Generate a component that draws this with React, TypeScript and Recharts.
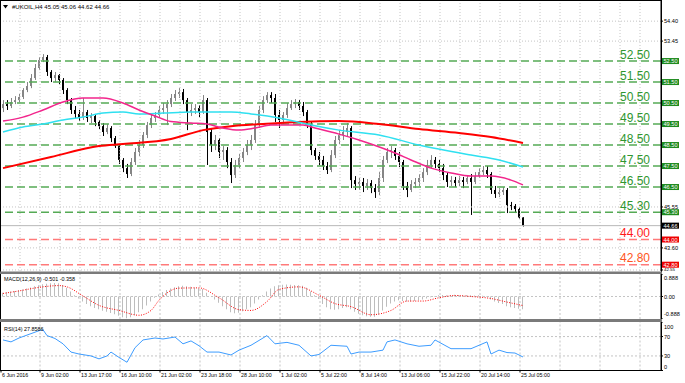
import React from "react";
import { ComposedChart, Bar, Line, XAxis, YAxis, ReferenceLine } from "recharts";

const FONT = '"Liberation Sans", Arial, sans-serif';

// #UKOIL H4 candles, 6 Jun 2016 .. 25 Jul 2016 05:00
const open = [
  50.26, 50.45, 50.36, 50.55, 50.64, 50.79, 51.12, 51.31, 51.69, 52.17,
  52.55, 52.69, 51.98, 51.69, 51.83, 51.6, 51.12, 50.64, 50.17, 49.98,
  49.83, 50.07, 49.79, 49.88, 49.6, 49.4, 49.12, 49.31, 48.83, 48.45,
  47.79, 47.4, 47.12, 47.69, 48.17, 48.5, 48.98, 49.45, 49.79, 49.93,
  50.17, 50.26, 50.45, 50.74, 50.93, 51.02, 50.64, 50.07, 50.17, 50.26,
  50.07, 50.64, 49.12, 48.5, 48.74, 48.17, 48.26, 47.69, 47.07, 47.55,
  47.88, 48.17, 48.5, 48.74, 49.45, 50.17, 50.64, 50.88, 50.74, 49.93,
  49.69, 49.93, 50.26, 50.45, 50.55, 50.36, 50.07, 49.5, 48.26, 47.98,
  47.79, 47.5, 47.31, 48.02, 48.74, 48.98, 49.12, 49.31, 46.83, 46.64,
  46.74, 46.55, 46.69, 46.45, 46.26, 46.93, 47.79, 48.17, 48.26, 47.98,
  47.69, 46.55, 46.36, 46.64, 46.74, 46.93, 47.21, 47.55, 47.79, 47.6,
  47.4, 47.07, 46.74, 46.83, 46.69, 46.83, 46.74, 46.93, 46.74, 47.02,
  47.21, 47.31, 47.12, 46.36, 46.17, 46.26, 46.36, 45.64, 45.6, 45.45,
  45.05,
];
const high = [
  50.64, 50.64, 50.74, 50.83, 50.93, 51.21, 51.5, 51.88, 52.36, 52.69,
  52.83, 52.79, 52.07, 51.98, 51.88, 51.69, 51.21, 50.74, 50.36, 50.17,
  50.74, 50.17, 50.02, 49.98, 49.69, 49.55, 49.5, 49.4, 48.93, 48.55,
  47.88, 47.6, 47.88, 48.36, 48.74, 49.12, 49.6, 49.98, 50.07, 50.36,
  50.5, 50.64, 50.93, 51.12, 51.21, 51.17, 50.74, 50.45, 50.45, 50.4,
  50.88, 50.74, 49.31, 48.98, 48.83, 48.45, 48.4, 47.88, 47.79, 48.07,
  48.36, 48.74, 48.98, 49.69, 50.36, 50.83, 51.02, 51.02, 50.93, 50.17,
  50.07, 50.5, 50.64, 50.69, 50.64, 50.55, 50.17, 49.6, 48.36, 48.17,
  47.98, 47.69, 48.26, 48.93, 49.21, 49.4, 49.55, 49.4, 47.02, 46.93,
  46.93, 46.88, 46.83, 46.64, 47.21, 47.98, 48.36, 48.45, 48.36, 48.17,
  47.79, 46.74, 46.83, 46.93, 47.12, 47.4, 47.79, 48.02, 47.93, 47.79,
  47.6, 47.21, 47.02, 46.98, 47.02, 46.98, 47.07, 47.12, 47.21, 47.4,
  47.5, 47.5, 47.21, 46.55, 46.45, 46.5, 46.45, 45.79, 45.69, 45.55,
  45.06,
];
const low = [
  50.07, 50.17, 50.26, 50.45, 50.55, 50.69, 51.02, 51.21, 51.6, 52.07,
  52.45, 51.79, 51.5, 51.5, 51.4, 50.93, 50.45, 49.98, 49.79, 49.64,
  49.69, 49.6, 49.55, 49.4, 49.26, 48.93, 49.02, 48.64, 48.36, 47.6,
  47.21, 46.93, 47.02, 47.55, 47.98, 48.36, 48.83, 49.31, 49.6, 49.79,
  49.98, 49.45, 50.31, 50.6, 50.74, 50.45, 49.21, 49.88, 49.98, 49.83,
  49.98, 47.55, 48.17, 48.26, 47.88, 47.79, 47.4, 46.69, 46.93, 47.4,
  47.69, 48.02, 48.26, 48.6, 49.31, 50.02, 50.5, 50.5, 49.6, 49.31,
  49.5, 49.79, 50.17, 50.26, 50.17, 49.88, 49.31, 48.02, 47.79, 47.55,
  47.31, 47.12, 47.21, 47.88, 48.55, 48.74, 48.93, 46.45, 46.36, 46.36,
  46.26, 46.36, 46.21, 45.98, 46.12, 46.74, 47.64, 47.88, 47.79, 47.45,
  46.36, 46.02, 46.26, 46.45, 46.55, 46.74, 47.07, 47.4, 47.4, 47.21,
  46.83, 46.5, 46.55, 46.5, 46.55, 46.45, 46.64, 45.17, 46.64, 46.93,
  47.07, 46.93, 46.17, 45.98, 46.02, 46.12, 45.26, 45.4, 45.26, 45.0,
  44.62,
];
const close = [
  50.45, 50.36, 50.55, 50.64, 50.79, 51.12, 51.31, 51.69, 52.17, 52.55,
  52.69, 51.98, 51.69, 51.83, 51.6, 51.12, 50.64, 50.17, 49.98, 49.83,
  50.07, 49.79, 49.88, 49.6, 49.4, 49.12, 49.31, 48.83, 48.45, 47.79,
  47.4, 47.12, 47.69, 48.17, 48.5, 48.98, 49.45, 49.79, 49.93, 50.17,
  50.26, 50.45, 50.74, 50.93, 51.02, 50.64, 50.07, 50.17, 50.26, 50.07,
  50.64, 49.12, 48.5, 48.74, 48.17, 48.26, 47.69, 47.07, 47.55, 47.88,
  48.17, 48.5, 48.74, 49.45, 50.17, 50.64, 50.88, 50.74, 49.93, 49.69,
  49.93, 50.26, 50.45, 50.55, 50.36, 50.07, 49.5, 48.26, 47.98, 47.79,
  47.5, 47.31, 48.02, 48.74, 48.98, 49.12, 49.31, 46.83, 46.64, 46.74,
  46.55, 46.69, 46.45, 46.26, 46.93, 47.79, 48.17, 48.26, 47.98, 47.69,
  46.55, 46.36, 46.64, 46.74, 46.93, 47.21, 47.55, 47.79, 47.6, 47.4,
  47.07, 46.74, 46.83, 46.69, 46.83, 46.74, 46.93, 46.74, 47.02, 47.21,
  47.31, 47.12, 46.36, 46.17, 46.26, 46.36, 45.64, 45.6, 45.45, 45.05,
  44.66,
];

// moving averages as [bar, price]
const maFast: [number, number][] = [
  [0, 49.64], [5, 49.83], [10, 50.17], [15, 50.55], [20, 50.74], [25, 50.74],
  [30, 50.5], [34, 50.17], [38, 49.88], [42, 49.62], [47, 49.55], [51, 49.5],
  [55, 49.31], [59, 49.21], [63, 49.31], [67, 49.45], [75, 49.45], [78, 49.31],
  [84, 49.02], [89, 48.74], [92, 48.55], [98, 48.12], [102, 47.79], [107, 47.4],
  [112, 47.17], [117, 47.02], [122, 47.02], [127, 46.83], [130, 46.6],
];
const maMid: [number, number][] = [
  [0, 49.12], [5, 49.36], [10, 49.5], [15, 49.69], [20, 49.83], [25, 50.02],
  [30, 50.07], [34, 49.98], [40, 50.02], [47, 50.07], [57, 50.07], [62, 49.98],
  [69, 49.79], [77, 49.45], [84, 49.21], [94, 48.98], [104, 48.5], [117, 48.02],
  [124, 47.79], [130, 47.45],
];
const maSlow: [number, number][] = [
  [0, 47.4], [12, 47.93], [24, 48.45], [30, 48.55], [42, 48.79], [50, 49.21],
  [57, 49.4], [65, 49.5], [74, 49.6], [84, 49.64], [94, 49.5], [104, 49.26],
  [114, 49.07], [122, 48.88], [130, 48.6],
];

const macdHist = [
  0.15, 0.18, 0.2, 0.22, 0.25, 0.28, 0.32, 0.36, 0.4, 0.44,
  0.48, 0.5, 0.52, 0.53, 0.52, 0.45, 0.35, 0.2, 0.05, -0.08,
  -0.2, -0.3, -0.38, -0.45, -0.5, -0.56, -0.6, -0.65, -0.7, -0.76,
  -0.82, -0.86, -0.82, -0.74, -0.62, -0.5, -0.36, -0.2, -0.05, 0.08,
  0.18, 0.26, 0.32, 0.37, 0.4, 0.42, 0.4, 0.38, 0.36, 0.33,
  0.3, 0.15, 0.0, -0.12, -0.25, -0.38, -0.5, -0.62, -0.66, -0.64,
  -0.58, -0.5, -0.42, -0.28, -0.12, 0.05, 0.2, 0.32, 0.4, 0.44,
  0.46, 0.47, 0.46, 0.45, 0.44, 0.42, 0.35, 0.2, 0.05, -0.1,
  -0.3, -0.42, -0.5, -0.52, -0.5, -0.45, -0.42, -0.5, -0.6, -0.68,
  -0.74, -0.78, -0.8, -0.8, -0.72, -0.55, -0.4, -0.28, -0.2, -0.15,
  -0.18, -0.2, -0.2, -0.18, -0.15, -0.12, -0.08, -0.03, 0.02, 0.05,
  0.06, 0.05, 0.06, 0.07, 0.06, 0.05, 0.06, 0.05, 0.04, 0.05,
  0.03, -0.02, -0.12, -0.2, -0.26, -0.3, -0.38, -0.42, -0.45, -0.48,
  -0.501,
];
const macdSignal: [number, number][] = [
  [0, 0.12], [4, 0.22], [9, 0.36], [14, 0.43], [16, 0.38], [20, 0.02], [24, -0.35],
  [29, -0.55], [34, -0.74], [37, -0.55], [39, -0.15], [44, 0.33], [49, 0.34],
  [54, -0.05], [59, -0.52], [62, -0.55], [66, -0.2], [69, 0.28], [74, 0.38],
  [79, 0.05], [83, -0.28], [87, -0.4], [92, -0.72], [97, -0.55], [101, -0.18],
  [105, -0.18], [109, -0.05], [113, 0.04], [117, 0.0], [122, -0.08], [126, -0.22],
  [130, -0.358],
];
const rsiPts: [number, number][] = [
  [0, 63], [2, 59], [4, 67], [7, 76], [9, 82], [10, 84], [11, 72], [13, 66], [15, 55],
  [17, 38], [19, 34], [22, 30], [24, 24], [26, 30], [27, 38], [29, 27], [31, 17],
  [33, 47], [35, 63], [38, 67], [40, 65], [43, 69], [45, 55], [47, 61], [49, 51],
  [51, 38], [54, 38], [57, 32], [59, 42], [62, 52], [66, 72], [68, 55], [71, 58],
  [74, 52], [77, 30], [79, 33], [82, 52], [86, 50], [87, 34], [89, 38], [92, 38],
  [95, 42], [96, 59], [98, 63], [101, 55], [104, 50], [107, 52], [108, 63],
  [112, 45], [117, 45], [121, 59], [122, 34], [124, 42], [126, 37], [128, 36],
  [130, 27.86],
];

const greenLevels = [52.5, 51.5, 50.5, 49.5, 48.5, 47.5, 46.5, 45.3];
const redLevels = [44.0, 42.8];
const bid = 44.66;
const priceTicks = [54.4, 53.45, 45.55, 43.6, 42.55];
const macdTicks = [0.888, 0, -0.888];
const rsiTicks = [100, 70, 30, 0];
const timeLabels = [
  "6 Jun 2016", "9 Jun 02:00", "13 Jun 17:00", "16 Jun 10:00", "21 Jun 02:00",
  "23 Jun 18:00", "28 Jun 10:00", "1 Jul 02:00", "5 Jul 22:00", "8 Jul 14:00",
  "13 Jul 06:00", "15 Jul 22:00", "20 Jul 14:00", "25 Jul 05:00",
];

const rows: any[] = close.map((c, i) => ({
  i, o: open[i], h: high[i], l: low[i], c,
  range: [low[i], high[i]],
  hist: macdHist[i],
  fast: null, mid: null, slow: null, sig: null, rsi: null,
}));
maFast.forEach(([i, v]) => (rows[i].fast = v));
maMid.forEach(([i, v]) => (rows[i].mid = v));
maSlow.forEach(([i, v]) => (rows[i].slow = v));
macdSignal.forEach(([i, v]) => (rows[i].sig = v));
rsiPts.forEach(([i, v]) => (rows[i].rsi = v));

// x-domain in bar units; grid every 5 bars in the price pane, every 10 below
const X_DOMAIN: [number, number] = [-0.5, 164.5];
const mainGridX = Array.from({ length: 32 }, (_, k) => 5 * (k + 1) - 0.75);
const subGridX = Array.from({ length: 16 }, (_, k) => 10 * (k + 1) - 0.75);
const timeTicks = timeLabels.map((_, k) => (k === 0 ? -0.5 : 10 * k - 0.75));

const GRID = "#c4c4c4";
const UP = "#858585";
const DOWN = "#000000";

function Candle(props: any) {
  const { x, y, width, height, payload } = props;
  if (!payload || height == null) return null;
  const top = Math.min(y, y + height);
  const span = Math.abs(height);
  const k = span / (payload.h - payload.l || 1);
  const yo = top + (payload.h - payload.o) * k;
  const yc = top + (payload.h - payload.c) * k;
  const col = payload.c >= payload.o ? UP : DOWN;
  const cx = Math.round(x + width / 2);
  return (
    <g>
      <rect x={cx} y={top} width={1} height={Math.max(1, span)} fill={col} />
      <rect x={cx - 1} y={Math.min(yo, yc)} width={2} height={Math.max(1, Math.abs(yc - yo))} fill={col} />
    </g>
  );
}

function LevelTag(props: any) {
  const { viewBox, text, color, box, big } = props;
  if (!viewBox) return null;
  const right = viewBox.x + viewBox.width;
  const y = viewBox.y;
  return (
    <g fontFamily={FONT}>
      {big && (
        <text x={right - 11} y={y - 2.5} textAnchor="end" fill={color} fontSize={12}>
          {text}
        </text>
      )}
      <rect x={right + 1} y={y - 3} width={17} height={6} fill={box} />
      <text x={right + 2.5} y={y + 2} fill="#fff" fontSize={5.6}>
        {text}
      </text>
    </g>
  );
}

function AxisTick(props: any) {
  const { x, y, payload, shift, size } = props;
  const v = payload.value;
  const dy = shift && shift[String(v)] ? shift[String(v)] : 0;
  const txt = props.fmt ? props.fmt(v) : String(v);
  const fs = size && size[String(v)] ? size[String(v)] : 5.6;
  return (
    <text x={x} y={y + dy + 2} fontSize={fs} fontFamily={FONT} fill="#000">
      {txt}
    </text>
  );
}

function TimeTick(props: any) {
  const { x, y, payload } = props;
  const k = timeTicks.indexOf(payload.value);
  return (
    <text x={x + 1} y={y + 3.5} fontSize={5.3} fontFamily={FONT} fill="#000">
      {k >= 0 ? timeLabels[k] : ""}
    </text>
  );
}

export default function App() {
  return (
    <div style={{ position: "fixed", left: 0, top: 0, width: 685, height: 383, background: "#fff" }}>
      {/* price pane */}
      <div style={{ position: "absolute", left: 0, top: 1 }}>
        <ComposedChart width={685} height={270} data={rows} margin={{ top: 0, right: 0, bottom: 0, left: 1 }}>
          <XAxis type="number" dataKey="i" domain={X_DOMAIN} hide allowDataOverflow />
          <YAxis
            orientation="right"
            width={24}
            type="number"
            domain={[42.5, 55.36]}
            allowDataOverflow
            ticks={priceTicks}
            interval={0}
            tickSize={2}
            tickMargin={1}
            axisLine={{ stroke: "#000" }}
            tickLine={{ stroke: "#000" }}
            tick={<AxisTick shift={{ "42.55": -1.2 }} size={{ "42.55": 4.4 }} fmt={(v: number) => v.toFixed(2)} />}
          />
          {mainGridX.map((v) => (
            <ReferenceLine key={"gx" + v} x={v} stroke={GRID} strokeDasharray="1 2" />
          ))}
          {priceTicks.map((v) => (
            <ReferenceLine key={"gy" + v} y={v} stroke={GRID} strokeDasharray="1 2" />
          ))}
          {greenLevels.map((v) => (
            <ReferenceLine
              key={"lv" + v}
              y={v}
              stroke="#55aa55"
              strokeWidth={1.4}
              strokeDasharray="8 4"
              label={<LevelTag text={v.toFixed(2)} color="#2f962f" box="#1e8a1e" big />}
            />
          ))}
          {redLevels.map((v, k) => (
            <ReferenceLine
              key={"rv" + v}
              y={v}
              stroke="#ff7a7a"
              strokeWidth={1.4}
              strokeDasharray="8 4"
              label={<LevelTag text={v.toFixed(2)} color={k === 0 ? "#ff1a1a" : "#ff5522"} box="#ee0000" big />}
            />
          ))}
          <ReferenceLine y={bid} stroke="#b8b8b8" label={<LevelTag text={bid.toFixed(2)} box="#000" />} />
          <Bar dataKey="range" barSize={2} shape={<Candle />} isAnimationActive={false} />
          <Line dataKey="slow" type="monotone" stroke="#ff0000" strokeWidth={2} dot={false} connectNulls isAnimationActive={false} />
          <Line dataKey="mid" type="monotone" stroke="#2fe0f0" strokeWidth={1.5} dot={false} connectNulls isAnimationActive={false} />
          <Line dataKey="fast" type="monotone" stroke="#f2268c" strokeWidth={1.5} dot={false} connectNulls isAnimationActive={false} />
        </ComposedChart>
      </div>

      {/* MACD pane */}
      <div style={{ position: "absolute", left: 0, top: 274 }}>
        <ComposedChart width={685} height={45} data={rows} margin={{ top: 0, right: 0, bottom: 0, left: 1 }}>
          <XAxis type="number" dataKey="i" domain={X_DOMAIN} hide allowDataOverflow />
          <YAxis
            orientation="right"
            width={24}
            type="number"
            domain={[-0.888, 0.888]}
            allowDataOverflow
            ticks={macdTicks}
            interval={0}
            tickSize={2}
            tickMargin={1}
            axisLine={{ stroke: "#000" }}
            tickLine={{ stroke: "#000" }}
            tick={<AxisTick shift={{ "0.888": 4, "-0.888": -5.5 }} fmt={(v: number) => v.toFixed(v === 0 ? 2 : 3)} />}
          />
          {subGridX.map((v) => (
            <ReferenceLine key={"mx" + v} x={v} stroke={GRID} strokeDasharray="2 2" />
          ))}
          <ReferenceLine y={0} stroke={GRID} strokeDasharray="2 2" />
          <Bar dataKey="hist" barSize={1} fill="#bdbdbd" isAnimationActive={false} />
          <Line dataKey="sig" type="monotone" stroke="#ff0000" strokeWidth={1} strokeDasharray="1 1.5" dot={false} connectNulls isAnimationActive={false} />
        </ComposedChart>
      </div>

      {/* RSI pane */}
      <div style={{ position: "absolute", left: 0, top: 322 }}>
        <ComposedChart width={685} height={61} data={rows} margin={{ top: 0, right: 0, bottom: 0, left: 1 }}>
          <XAxis
            type="number"
            dataKey="i"
            domain={X_DOMAIN}
            allowDataOverflow
            height={12.5}
            ticks={timeTicks}
            interval={0}
            tickSize={2}
            tickMargin={1}
            axisLine={{ stroke: "#000" }}
            tickLine={{ stroke: "#000" }}
            tick={<TimeTick />}
          />
          <YAxis
            orientation="right"
            width={24}
            type="number"
            domain={[0, 100]}
            allowDataOverflow
            ticks={rsiTicks}
            interval={0}
            tickSize={2}
            tickMargin={1}
            axisLine={{ stroke: "#000" }}
            tickLine={{ stroke: "#000" }}
            tick={<AxisTick shift={{ "100": 4.5, "0": -4 }} />}
          />
          {subGridX.map((v) => (
            <ReferenceLine key={"rx" + v} x={v} stroke={GRID} strokeDasharray="2 2" />
          ))}
          <ReferenceLine y={70} stroke={GRID} strokeDasharray="2 2" />
          <ReferenceLine y={30} stroke={GRID} strokeDasharray="2 2" />
          <Line dataKey="rsi" type="linear" stroke="#3d9cff" strokeWidth={1} dot={false} connectNulls isAnimationActive={false} />
        </ComposedChart>
      </div>

      {/* frame, pane separators, captions */}
      <svg width={685} height={383} style={{ position: "absolute", left: 0, top: 0, pointerEvents: "none" }}>
        <rect x={0.5} y={0.5} width={661} height={370} fill="none" stroke="#000" />
        <rect x={0} y={271.5} width={662} height={2.5} fill="#7a7a7a" />
        <rect x={0} y={319} width={662} height={3} fill="#7a7a7a" />
        <g fontFamily={FONT} fill="#000">
          <path d="M3,5 L8,5 L5.5,8.5 Z" />
          <text x={12} y={8.5} fontSize={6}>#UKOIL,H4 45.05 45.06 44.62 44.66</text>
          <text x={4} y={281} fontSize={5.4}>MACD(12,26,9) -0.501 -0.358</text>
          <text x={4} y={331} fontSize={5.4}>RSI(14) 27.8586</text>
        </g>
      </svg>
    </div>
  );
}
